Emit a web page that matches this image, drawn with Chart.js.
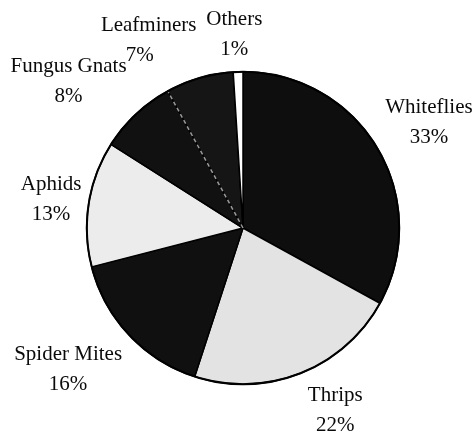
<!DOCTYPE html>
<html>
<head>
<meta charset="utf-8">
<script src="https://cdn.jsdelivr.net/npm/chart.js@4/dist/chart.umd.min.js"></script>
<style>
html,body{margin:0;padding:0;background:#fff;}
#wrap{width:474px;height:435px;}
</style>
</head>
<body>
<div id="wrap"><canvas id="c" width="474" height="435"></canvas></div>
<script>
const categories = ["Whiteflies","Thrips","Spider Mites","Aphids","Fungus Gnats","Leafminers","Others"];
const values = [33,22,16,13,8,7,1];
const percentLabels = ["33%","22%","16%","13%","8%","7%","1%"];

const fills = ["#0e0e0e","#e3e3e3","#101010","#ececec","#111111","#151515","#ffffff"];
const nudges = [[3,3],[14,-15],[-20,-4],[18,5],[-29,8],[-35,17],[-2,19]];
const pctShift = [[0,0],[0,0],[0,0],[0,0],[0,0],[9,0],[0,0]];

const labelPlugin = {
  id:'pieLabels',
  afterDatasetsDraw(chart){
    const ctx = chart.ctx;
    const meta = chart.getDatasetMeta(0);
    ctx.save();
    const lm = meta.data[5];
    ctx.strokeStyle = '#9a9a9a';
    ctx.lineWidth = 1.5;
    ctx.setLineDash([4,3]);
    ctx.beginPath();
    ctx.moveTo(lm.x, lm.y);
    ctx.lineTo(lm.x + lm.outerRadius*Math.cos(lm.startAngle), lm.y + lm.outerRadius*Math.sin(lm.startAngle));
    ctx.stroke();
    ctx.setLineDash([]);
    const a0 = meta.data[0];
    ctx.strokeStyle = '#000';
    ctx.lineWidth = 2;
    ctx.beginPath();
    ctx.arc(a0.x, a0.y, a0.outerRadius, 0, Math.PI*2);
    ctx.stroke();
    ctx.fillStyle = '#0a0a0a';
    ctx.font = '21px "Liberation Serif", "Times New Roman", serif';
    ctx.textAlign = 'center';
    ctx.textBaseline = 'middle';
    meta.data.forEach((arc,i)=>{
      const mid = (arc.startAngle + arc.endAngle)/2;
      const d = arc.outerRadius*1.36;
      const x = arc.x + d*Math.cos(mid) + nudges[i][0];
      const y = arc.y + d*Math.sin(mid) + nudges[i][1];
      ctx.fillText(categories[i], x, y-15);
      ctx.fillText(percentLabels[i], x - pctShift[i][0], y+15 + pctShift[i][1]);
    });
    ctx.restore();
  }
};

new Chart(document.getElementById('c'), {
  type:'pie',
  data:{
    labels:categories,
    datasets:[{
      data:values,
      backgroundColor:fills,
      borderColor:'#000',
      borderWidth:1.5
    }]
  },
  options:{
    responsive:false,
    animation:false,
    layout:{padding:{top:71,bottom:50,left:86,right:74}},
    plugins:{legend:{display:false},tooltip:{enabled:false}}
  },
  plugins:[labelPlugin]
});
</script>
</body>
</html>
